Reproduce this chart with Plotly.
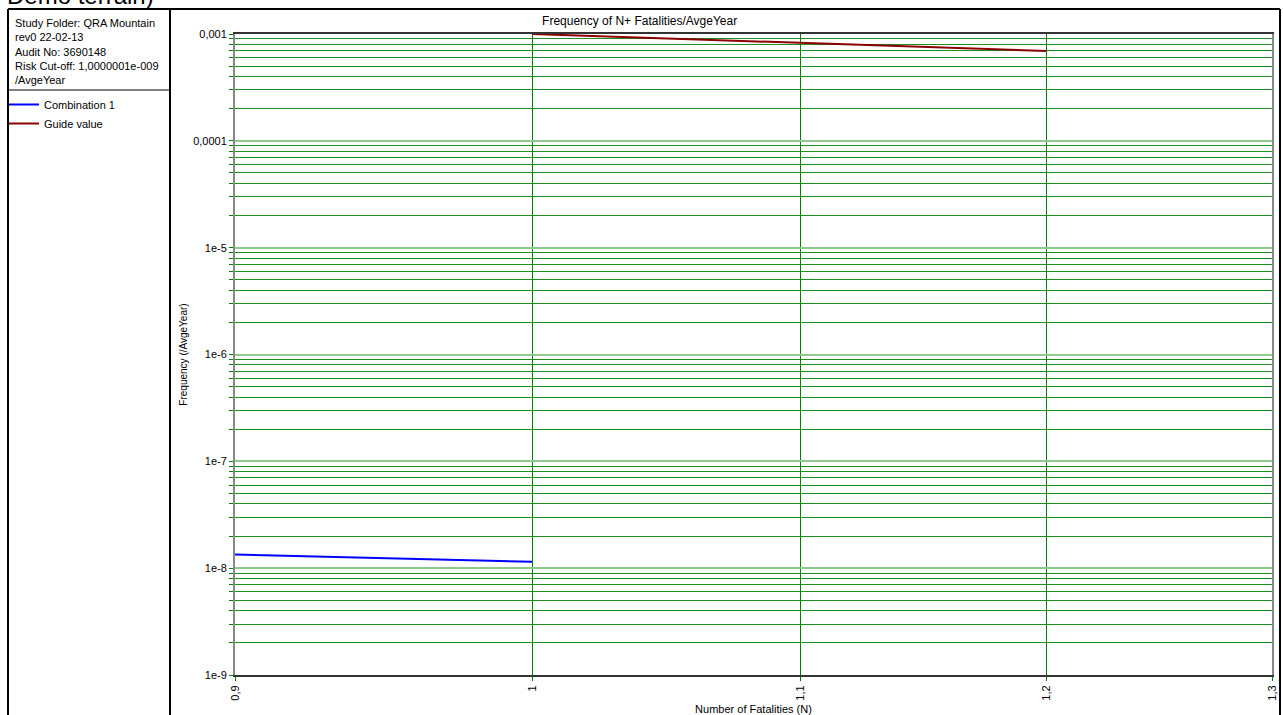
import plotly.graph_objects as go

# ---- data ----
combo_n = [0.9, 0.925, 0.95, 0.975, 1.0]
combo_f = [1.342e-8, 1.288e-8, 1.238e-8, 1.190e-8, 1.146e-8]

guide_n = [1.0, 1.05, 1.1, 1.15, 1.2]
guide_f = [1.0e-3, 9.07e-4, 8.26e-4, 7.56e-4, 6.94e-4]

x_tickvals = [0.9, 1.0, 1.1, 1.2, 1.3]
x_ticktext = ["0,9", "1", "1,1", "1,2", "1,3"]
y_tickvals = [1e-3, 1e-4, 1e-5, 1e-6, 1e-7, 1e-8, 1e-9]
y_ticktext = ["0,001", "0,0001", "1e-5", "1e-6", "1e-7", "1e-8", "1e-9"]

info_lines = ["Study Folder: QRA Mountain", "rev0 22-02-13", "Audit No: 3690148",
              "Risk Cut-off: 1,0000001e-009", "/AvgeYear"]

W, H = 1283, 715
L, R, T, B = 235, 11, 34, 40
PW, PH = W - L - R, H - T - B

def px(x):
    return (x - L) / PW

def py(y):
    return (H - B - y) / PH

FONT = "Arial, Liberation Sans, sans-serif"

fig = go.Figure()
fig.add_trace(go.Scatter(x=combo_n, y=combo_f, mode="lines", name="Combination 1",
                         line=dict(color="#0000ff", width=2)))
fig.add_trace(go.Scatter(x=guide_n, y=guide_f, mode="lines", name="Guide value",
                         line=dict(color="#8b0000", width=2)))

shapes = [
    # outer frame
    dict(type="line", xref="paper", yref="paper", x0=px(8), x1=px(1280), y0=py(9), y1=py(9),
         line=dict(color="#000", width=2)),
    dict(type="line", xref="paper", yref="paper", x0=px(8), x1=px(8), y0=py(9), y1=py(716),
         line=dict(color="#000", width=2)),
    dict(type="line", xref="paper", yref="paper", x0=px(1280), x1=px(1280), y0=py(9), y1=py(716),
         line=dict(color="#000", width=2)),
    dict(type="line", xref="paper", yref="paper", x0=px(170), x1=px(170), y0=py(9), y1=py(716),
         line=dict(color="#000", width=2)),
    dict(type="line", xref="paper", yref="paper", x0=px(8), x1=px(170), y0=py(90), y1=py(90),
         line=dict(color="#000", width=1)),
]

annotations = [
    dict(text="Demo terrain)", xref="paper", yref="paper", x=px(5), y=py(11),
         xanchor="left", yanchor="bottom", showarrow=False,
         font=dict(family=FONT, size=24, color="#000")),
    dict(text="<br>".join(info_lines), xref="paper", yref="paper", x=px(13), y=py(15),
         xanchor="left", yanchor="top", align="left", showarrow=False,
         font=dict(family=FONT, size=11, color="#000")),
]

fig.update_layout(
    width=W, height=H,
    margin=dict(l=L, r=R, t=T, b=B, autoexpand=False),
    paper_bgcolor="white", plot_bgcolor="white",
    font=dict(family=FONT, size=11, color="#000"),
    title=dict(text="Frequency of N+ Fatalities/AvgeYear", x=px(752), xanchor="center",
               y=1 - 21 / H, yanchor="middle", font=dict(family=FONT, size=12, color="#000")),
    showlegend=True,
    legend=dict(x=px(4), y=py(90), xanchor="left", yanchor="top", bgcolor="rgba(0,0,0,0)",
                font=dict(family=FONT, size=11), itemwidth=30, tracegroupgap=0),
    shapes=shapes,
    annotations=annotations,
)

fig.update_xaxes(
    type="log", range=[-0.045757, 0.113943], automargin=False,
    tickvals=x_tickvals, ticktext=x_ticktext, tickangle=-90,
    ticks="outside", ticklen=4, tickcolor="#008000",
    showgrid=True, gridcolor="#008000", gridwidth=1,
    showline=True, linecolor="#333333", linewidth=2, mirror=True,
    zeroline=False,
    title=dict(text="Number of Fatalities (N)", standoff=6, font=dict(size=11)),
    tickfont=dict(size=11),
)

fig.update_yaxes(
    type="log", range=[-9, -3], automargin=False,
    tickvals=y_tickvals, ticktext=y_ticktext,
    ticks="outside", ticklen=4, tickcolor="#008000",
    showgrid=True, gridcolor="#8fc98f", gridwidth=2,
    minor=dict(dtick="D1", showgrid=True, gridcolor="#1f8f1f", gridwidth=1,
               ticks="outside", ticklen=4, tickcolor="#008000"),
    showline=True, linecolor="#888888", linewidth=2, mirror=True,
    zeroline=False,
    title=dict(text="Frequency (/AvgeYear)", standoff=4, font=dict(size=10)),
    tickfont=dict(size=11),
)

fig.write_html("out.html", config={"displayModeBar": False},
               post_script="document.body.style.margin='0';document.body.style.overflow='hidden';")
